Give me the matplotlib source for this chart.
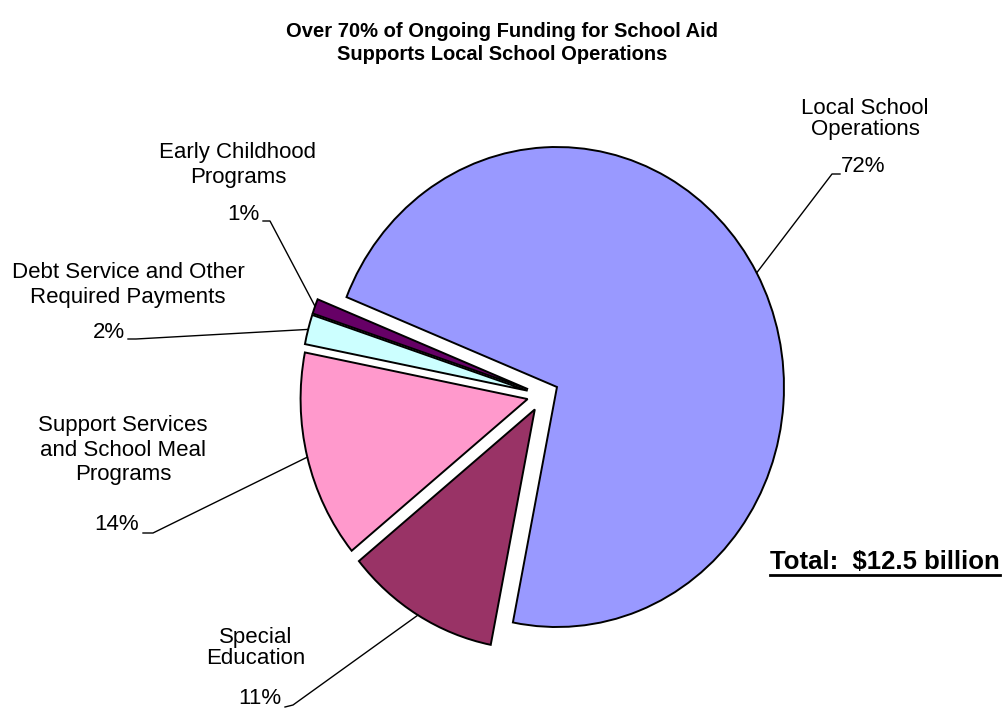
import matplotlib
matplotlib.use('Agg')
import matplotlib.pyplot as plt
import numpy as np

plt.rcParams['font.family'] = ['Liberation Sans', 'DejaVu Sans']

# chart data
categories = ['Local School\nOperations', 'Special\nEducation',
              'Support Services\nand School Meal\nPrograms',
              'Debt Service and Other\nRequired Payments',
              'Early Childhood\nPrograms']
shares = [72, 11, 14, 2, 1]
pct_labels = ['72%', '11%', '14%', '2%', '1%']
colors = ['#9999FF', '#993366', '#FF99CC', '#CCFFFF', '#660066']

W, H = 1002, 711
RX, RY = 227, 240          # pie is a bit taller than wide (excel plot area)
CX, CY = 543, 395          # pie centre in pixels, top-down

# label layout, pixels from the top-left
name_xy = [(865, 119), (256, 648), (123, 450), (128, 285), (238, 165)]
name_spacing = [0.95, 0.95, 1.2, 1.2, 1.2]
pct_xy = [(863, 167), (260, 698), (117, 525), (109, 333), (243, 215)]
lead_from = [(840, 174), (285, 707), (143, 533), (128, 339), (263, 221)]
lead_elbow = [(832, 174), (293, 705), (153, 533), (136, 339), (270, 221)]

fig = plt.figure(figsize=(W / 100, H / 100), dpi=100)
ax = fig.add_axes([0, 0, 1, 1])
wedges, _ = ax.pie(shares, colors=colors, startangle=158, counterclock=False,
                   center=(CX / RX, (H - CY) / RY), radius=1,
                   explode=[0.07] * len(shares),
                   wedgeprops=dict(edgecolor='black', linewidth=1.4))
ax.set_aspect('auto')
ax.set_xlim(0, W / RX)
ax.set_ylim(0, H / RY)
ax.axis('off')

ov = fig.add_axes([0, 0, 1, 1])
ov.set_xlim(0, W)
ov.set_ylim(H, 0)
ov.axis('off')

for i, w in enumerate(wedges):
    mid = np.deg2rad((w.theta1 + w.theta2) / 2)
    x = (w.center[0] + w.r * np.cos(mid)) * RX
    y = H - (w.center[1] + w.r * np.sin(mid)) * RY
    ov.plot([lead_from[i][0], lead_elbow[i][0], x],
            [lead_from[i][1], lead_elbow[i][1], y], color='black', lw=1)
    ov.text(name_xy[i][0], name_xy[i][1], categories[i], ha='center', va='center',
            fontsize=16, linespacing=name_spacing[i])
    ov.text(pct_xy[i][0], pct_xy[i][1], pct_labels[i], ha='center', va='center',
            fontsize=16)

ov.text(502, 43, 'Over 70% of Ongoing Funding for School Aid\nSupports Local School Operations',
        ha='center', va='center', fontsize=14.5, fontweight='bold', linespacing=1.25)

tot = ov.text(1000, 562, 'Total:  $12.5 billion', ha='right', va='center',
              fontsize=18.5, fontweight='bold')
fig.canvas.draw()
bb = tot.get_window_extent().transformed(ov.transData.inverted())
ov.plot([bb.x0, bb.x1], [575, 575], color='black', lw=2)

fig.savefig('out.png', dpi=100)
